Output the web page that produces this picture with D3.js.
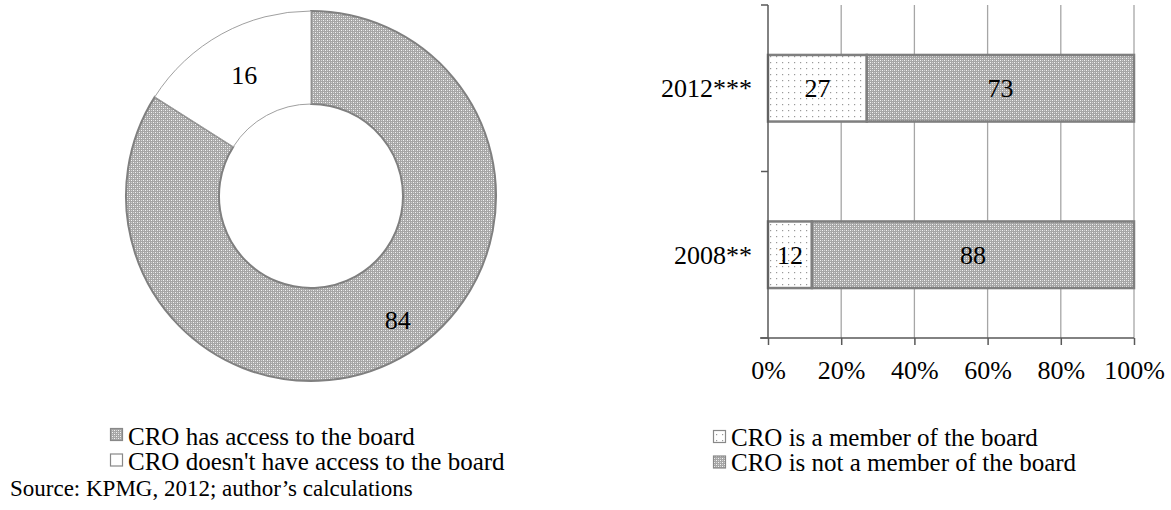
<!DOCTYPE html>
<html><head><meta charset="utf-8">
<script src="https://cdn.jsdelivr.net/npm/d3@7"></script>
<style>body{margin:0;background:#fff}svg{display:block}svg text{font-family:"Liberation Serif","Times New Roman",serif}</style>
</head><body>
<svg id="c" width="1171" height="510"></svg>
<script>
const donutLabels = ["CRO has access to the board", "CRO doesn't have access to the board"];
const donutValues = [84, 16];
const years = ["2012***", "2008**"];
const memberValues = [27, 12];
const notMemberValues = [73, 88];
const seriesNames = ["CRO is a member of the board", "CRO is not a member of the board"];
const xTicks = [0, 20, 40, 60, 80, 100];
const sourceText = "Source: KPMG, 2012; author\u2019s calculations";

const FF = "Liberation Serif";
const svg = d3.select("#c");
const defs = svg.append("defs");
// dark dotted pattern
const pd = defs.append("pattern").attr("id","pDark").attr("patternUnits","userSpaceOnUse").attr("width",4).attr("height",4);
pd.append("rect").attr("width",4).attr("height",4).attr("fill","#a6a6a6");
pd.append("rect").attr("x",0).attr("y",0).attr("width",1).attr("height",1).attr("fill","#f4f4f4");
pd.append("rect").attr("x",2).attr("y",2).attr("width",1).attr("height",1).attr("fill","#f4f4f4");
pd.append("rect").attr("x",2).attr("y",0).attr("width",1).attr("height",1).attr("fill","#d2d2d2");
pd.append("rect").attr("x",0).attr("y",2).attr("width",1).attr("height",1).attr("fill","#d2d2d2");
// light dotted pattern
const pl = defs.append("pattern").attr("id","pLight").attr("patternUnits","userSpaceOnUse").attr("width",6).attr("height",6);
pl.append("rect").attr("width",6).attr("height",6).attr("fill","#fff");
pl.append("rect").attr("x",2).attr("y",2).attr("width",1.2).attr("height",1.2).attr("fill","#999");

// ---- Donut ----
const cx = 311, cy = 196, rOut = 185, rIn = 92;
const pie = d3.pie().sort(null).value(d => d);
const arc = d3.arc().innerRadius(rIn).outerRadius(rOut);
const g = svg.append("g").attr("transform", `translate(${cx},${cy})`);
const arcs = pie(donutValues);
const fills = ["url(#pDark)", "#fff"];
const strokes = ["#808080", "#a0a0a0"];
const labelNudge = [[20, 3], [0, 0]];
g.selectAll("path").data(arcs).join("path")
  .attr("d", arc).attr("fill", (d,i) => fills[i]).attr("stroke", (d,i)=>strokes[i]).attr("stroke-width", (d,i)=> i===0?2:1);
g.selectAll("text").data(arcs).join("text")
  .attr("transform", (d,i) => { const c = arc.centroid(d); return `translate(${c[0]+labelNudge[i][0]},${c[1]+labelNudge[i][1]})`; })
  .attr("text-anchor","middle").attr("dy","0.35em").attr("font-size",26).attr("font-family",FF).attr("fill","#000")
  .text(d => d.data);

// donut legend
const lg = svg.append("g");
donutLabels.forEach((t,i) => {
  const y = 436 + i*25.5;
  lg.append("rect").attr("x",110.5).attr("y",y-7.5).attr("width",12).attr("height",12)
    .attr("fill", i===0 ? "url(#pDark)" : "#fff").attr("stroke", "#888").attr("stroke-width",1.2);
  lg.append("text").attr("x",128).attr("y",y).attr("dy","0.35em").attr("font-size",25).attr("font-family",FF).attr("fill","#000").text(t);
});
svg.append("text").attr("x",10).attr("y",488).attr("dy","0.35em").attr("font-size",23).attr("font-family",FF).attr("fill","#000").text(sourceText);

// ---- Bar chart ----
const x = d3.scaleLinear().domain([0,100]).range([768,1134]);
const y = d3.scaleBand().domain(years).range([5,338]).paddingInner(0.6).paddingOuter(0.3);
const yb = d3.scaleBand().domain(years).range([5,338]);
// gridlines
svg.append("g").selectAll("line").data(xTicks.filter(d=>d>0)).join("line")
  .attr("x1", d=>x(d)).attr("x2", d=>x(d)).attr("y1",5).attr("y2",338)
  .attr("stroke","#a6a6a6").attr("stroke-width",1.3);
// bars
const bars = svg.append("g");
years.forEach((yr,i) => {
  const y0 = y(yr), h = y.bandwidth();
  bars.append("rect").attr("x", x(0)).attr("y", y0).attr("width", x(memberValues[i])-x(0)).attr("height", h)
    .attr("fill","url(#pLight)").attr("stroke","#7f7f7f").attr("stroke-width",2.5);
  bars.append("rect").attr("x", x(memberValues[i])).attr("y", y0).attr("width", x(100)-x(memberValues[i])).attr("height", h)
    .attr("fill","url(#pDark)").attr("stroke","#7f7f7f").attr("stroke-width",2.5);
  bars.append("text").attr("x",(x(0)+x(memberValues[i]))/2).attr("y",y0+h/2).attr("dy","0.35em")
    .attr("text-anchor","middle").attr("font-size",26).attr("font-family",FF).attr("fill","#000").text(memberValues[i]);
  bars.append("text").attr("x",(x(memberValues[i])+x(100))/2).attr("y",y0+h/2).attr("dy","0.35em")
    .attr("text-anchor","middle").attr("font-size",26).attr("font-family",FF).attr("fill","#000").text(notMemberValues[i]);
});
// y axis
const ya = svg.append("g");
ya.append("line").attr("x1",768).attr("x2",768).attr("y1",5).attr("y2",338).attr("stroke","#595959").attr("stroke-width",1.5);
[5, 171.5, 338].forEach(v => ya.append("line").attr("x1",761).attr("x2",768).attr("y1",v).attr("y2",v).attr("stroke","#595959").attr("stroke-width",1.5));
years.forEach(yr => ya.append("text").attr("x",752).attr("y",yb(yr)+yb.bandwidth()/2).attr("dy","0.35em")
  .attr("text-anchor","end").attr("font-size",26).attr("font-family",FF).attr("fill","#000").text(yr));
// x axis
const xa = svg.append("g").attr("transform","translate(0,338)")
  .call(d3.axisBottom(x).tickValues(xTicks).tickSize(7).tickFormat(d => d + "%"));
xa.attr("font-family", FF);
xa.select(".domain").attr("stroke","#595959").attr("stroke-width",1.5).attr("d", `M${x(0)-8},0H${x(100)}`);
xa.selectAll(".tick line").attr("stroke","#595959").attr("stroke-width",1.5);
xa.selectAll(".tick text").attr("font-size",26).attr("font-family",FF).attr("fill","#000").attr("y",23).attr("dy","0.71em");

// bar legend
const bl = svg.append("g");
seriesNames.forEach((t,i) => {
  const yy = 437 + i*25.5;
  bl.append("rect").attr("x",713.5).attr("y",yy-6.5).attr("width",12).attr("height",12)
    .attr("fill", i===0 ? "url(#pLight)" : "url(#pDark)").attr("stroke","#888").attr("stroke-width",1.2);
  bl.append("text").attr("x",731).attr("y",yy).attr("dy","0.35em").attr("font-size",25).attr("font-family",FF).attr("fill","#000").text(t);
});
</script>
</body></html>
